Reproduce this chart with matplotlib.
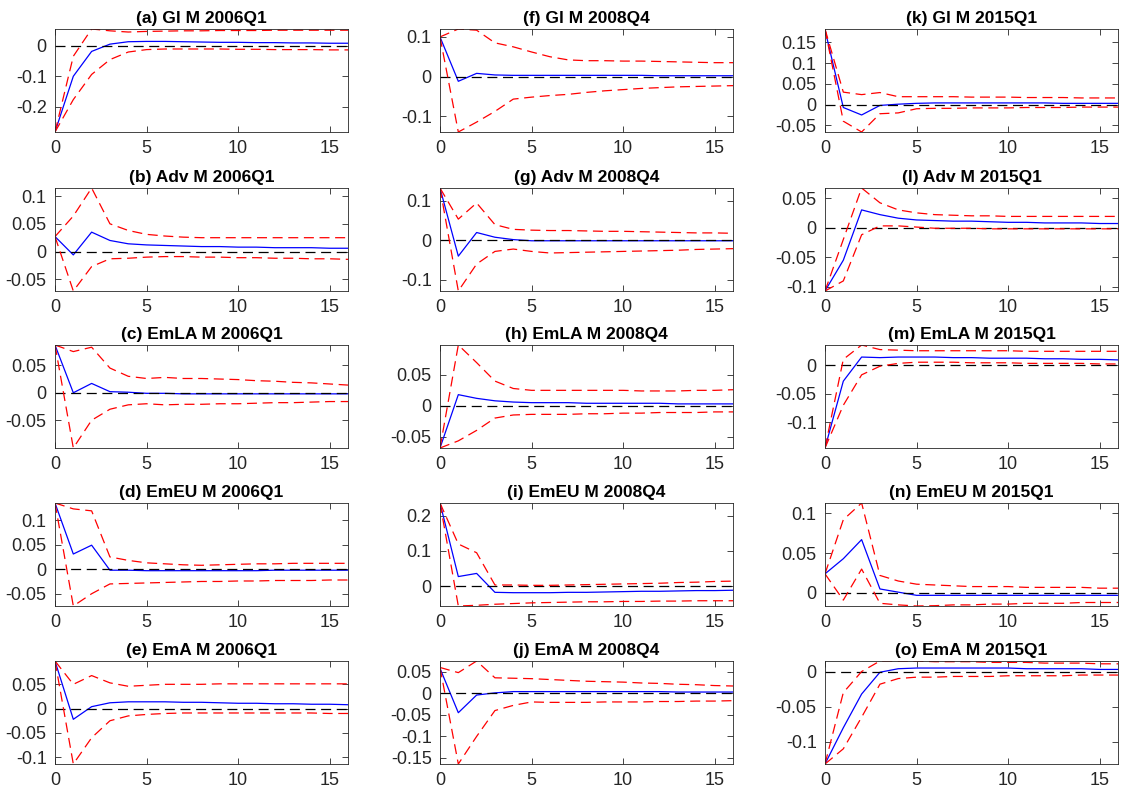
import numpy as np
import matplotlib.pyplot as plt
from matplotlib.ticker import FuncFormatter

plt.rcParams['font.family'] = ['Liberation Sans', 'DejaVu Sans']
plt.rcParams['axes.unicode_minus'] = False

horizon = np.arange(17)

titles = [
    ['(a) Gl M 2006Q1', '(f) Gl M 2008Q4', '(k) Gl M 2015Q1'],
    ['(b) Adv M 2006Q1', '(g) Adv M 2008Q4', '(l) Adv M 2015Q1'],
    ['(c) EmLA M 2006Q1', '(h) EmLA M 2008Q4', '(m) EmLA M 2015Q1'],
    ['(d) EmEU M 2006Q1', '(i) EmEU M 2008Q4', '(n) EmEU M 2015Q1'],
    ['(e) EmA M 2006Q1', '(j) EmA M 2008Q4', '(o) EmA M 2015Q1'],
]

# median responses
med_a = [-0.284, -0.100, -0.018, 0.006, 0.014, 0.015, 0.015, 0.014, 0.013, 0.012, 0.012, 0.011, 0.011, 0.010, 0.010, 0.009, 0.009]
med_b = [0.027, -0.006, 0.035, 0.020, 0.014, 0.012, 0.011, 0.010, 0.009, 0.009, 0.008, 0.008, 0.007, 0.007, 0.007, 0.006, 0.006]
med_c = [0.087, 0.000, 0.017, 0.002, 0.001, -0.001, -0.001, -0.002, -0.002, -0.002, -0.002, -0.002, -0.002, -0.002, -0.002, -0.002, -0.002]
med_d = [0.135, 0.031, 0.049, -0.002, -0.002, -0.003, -0.003, -0.003, -0.003, -0.003, -0.003, -0.003, -0.002, -0.002, -0.002, -0.002, -0.002]
med_e = [0.098, -0.022, 0.004, 0.012, 0.014, 0.014, 0.014, 0.013, 0.013, 0.012, 0.011, 0.011, 0.010, 0.010, 0.009, 0.009, 0.008]
med_f = [0.100, -0.012, 0.008, 0.004, 0.003, 0.003, 0.003, 0.003, 0.003, 0.003, 0.003, 0.003, 0.002, 0.002, 0.002, 0.002, 0.002]
med_g = [0.133, -0.040, 0.020, 0.008, 0.002, -0.001, -0.001, -0.001, -0.001, -0.001, -0.001, -0.001, -0.001, -0.001, -0.001, -0.001, -0.001]
med_h = [-0.0686, 0.018, 0.012, 0.008, 0.006, 0.005, 0.005, 0.005, 0.004, 0.004, 0.004, 0.004, 0.004, 0.003, 0.003, 0.003, 0.003]
med_i = [0.237, 0.027, 0.036, -0.018, -0.019, -0.019, -0.019, -0.018, -0.018, -0.017, -0.016, -0.015, -0.015, -0.014, -0.013, -0.013, -0.012]
med_j = [0.058, -0.045, -0.004, 0.001, 0.004, 0.004, 0.004, 0.004, 0.004, 0.004, 0.004, 0.004, 0.004, 0.003, 0.003, 0.003, 0.003]
med_k = [0.180, -0.007, -0.025, -0.002, 0.001, 0.003, 0.004, 0.004, 0.004, 0.004, 0.004, 0.004, 0.004, 0.003, 0.003, 0.003, 0.003]
med_l = [-0.107, -0.055, 0.030, 0.022, 0.016, 0.013, 0.012, 0.011, 0.011, 0.010, 0.009, 0.009, 0.008, 0.008, 0.008, 0.007, 0.007]
med_m = [-0.1445, -0.028, 0.014, 0.013, 0.014, 0.014, 0.014, 0.013, 0.013, 0.012, 0.012, 0.012, 0.011, 0.011, 0.010, 0.010, 0.009]
med_n = [0.024, 0.043, 0.067, 0.005, 0.001, -0.003, -0.003, -0.003, -0.003, -0.003, -0.003, -0.003, -0.003, -0.003, -0.003, -0.003, -0.003]
med_o = [-0.1316, -0.080, -0.032, -0.001, 0.004, 0.005, 0.005, 0.005, 0.005, 0.005, 0.005, 0.004, 0.004, 0.004, 0.004, 0.003, 0.003]

# upper bands
up_a = [-0.284, -0.034, 0.056, 0.050, 0.046, 0.048, 0.049, 0.050, 0.050, 0.051, 0.051, 0.051, 0.052, 0.052, 0.052, 0.052, 0.052]
up_b = [0.027, 0.064, 0.1145, 0.050, 0.038, 0.031, 0.028, 0.026, 0.025, 0.025, 0.025, 0.025, 0.025, 0.025, 0.025, 0.025, 0.025]
up_c = [0.087, 0.075, 0.083, 0.045, 0.030, 0.026, 0.028, 0.026, 0.026, 0.025, 0.024, 0.022, 0.021, 0.019, 0.018, 0.016, 0.014]
up_d = [0.135, 0.123, 0.119, 0.025, 0.018, 0.013, 0.011, 0.009, 0.008, 0.009, 0.010, 0.011, 0.011, 0.012, 0.012, 0.012, 0.012]
up_e = [0.098, 0.050, 0.068, 0.053, 0.046, 0.048, 0.050, 0.050, 0.050, 0.051, 0.051, 0.051, 0.051, 0.051, 0.051, 0.051, 0.051]
up_f = [0.100, 0.120, 0.117, 0.085, 0.075, 0.062, 0.050, 0.042, 0.040, 0.040, 0.039, 0.039, 0.038, 0.037, 0.036, 0.035, 0.035]
up_g = [0.133, 0.054, 0.095, 0.040, 0.028, 0.026, 0.025, 0.025, 0.024, 0.023, 0.023, 0.022, 0.021, 0.020, 0.019, 0.019, 0.018]
up_h = [-0.0686, 0.0986, 0.070, 0.040, 0.028, 0.025, 0.025, 0.025, 0.025, 0.025, 0.025, 0.024, 0.024, 0.024, 0.025, 0.025, 0.026]
up_i = [0.237, 0.120, 0.095, 0.003, 0.003, 0.002, 0.002, 0.003, 0.004, 0.005, 0.006, 0.007, 0.008, 0.010, 0.011, 0.013, 0.014]
up_j = [0.060, 0.048, 0.075, 0.036, 0.035, 0.034, 0.032, 0.030, 0.028, 0.027, 0.026, 0.024, 0.023, 0.021, 0.020, 0.018, 0.017]
up_k = [0.182, 0.030, 0.024, 0.029, 0.019, 0.019, 0.019, 0.019, 0.018, 0.018, 0.018, 0.017, 0.017, 0.017, 0.016, 0.016, 0.016]
up_l = [-0.107, -0.020, 0.067, 0.042, 0.030, 0.025, 0.022, 0.021, 0.020, 0.020, 0.019, 0.019, 0.019, 0.019, 0.019, 0.019, 0.019]
up_m = [-0.1445, 0.010, 0.035, 0.027, 0.026, 0.025, 0.025, 0.025, 0.025, 0.025, 0.025, 0.024, 0.024, 0.024, 0.024, 0.024, 0.024]
up_n = [0.024, 0.092, 0.113, 0.022, 0.015, 0.011, 0.010, 0.009, 0.008, 0.008, 0.008, 0.007, 0.007, 0.007, 0.007, 0.006, 0.006]
up_o = [-0.1316, -0.030, 0.000, 0.015, 0.015, 0.015, 0.014, 0.014, 0.014, 0.013, 0.013, 0.013, 0.012, 0.012, 0.012, 0.011, 0.011]

# lower bands
lo_a = [-0.284, -0.177, -0.094, -0.045, -0.020, -0.012, -0.010, -0.010, -0.010, -0.010, -0.011, -0.011, -0.012, -0.012, -0.012, -0.013, -0.013]
lo_b = [0.027, -0.071, -0.027, -0.013, -0.012, -0.010, -0.009, -0.009, -0.010, -0.010, -0.011, -0.011, -0.012, -0.012, -0.013, -0.013, -0.014]
lo_c = [0.087, -0.1006, -0.050, -0.030, -0.022, -0.020, -0.022, -0.021, -0.021, -0.020, -0.020, -0.019, -0.018, -0.018, -0.017, -0.016, -0.016]
lo_d = [0.135, -0.075, -0.050, -0.030, -0.029, -0.028, -0.027, -0.026, -0.025, -0.025, -0.024, -0.024, -0.023, -0.023, -0.023, -0.022, -0.022]
lo_e = [0.098, -0.114, -0.060, -0.025, -0.015, -0.012, -0.010, -0.009, -0.009, -0.009, -0.009, -0.009, -0.009, -0.009, -0.009, -0.010, -0.010]
lo_f = [0.100, -0.140, -0.115, -0.088, -0.057, -0.052, -0.048, -0.045, -0.040, -0.036, -0.033, -0.030, -0.028, -0.026, -0.025, -0.024, -0.023]
lo_g = [0.133, -0.1285, -0.060, -0.028, -0.022, -0.028, -0.032, -0.031, -0.030, -0.029, -0.028, -0.027, -0.026, -0.025, -0.023, -0.022, -0.021]
lo_h = [-0.0686, -0.057, -0.040, -0.020, -0.015, -0.014, -0.014, -0.014, -0.013, -0.013, -0.012, -0.012, -0.011, -0.011, -0.011, -0.010, -0.010]
lo_i = [0.237, -0.057, -0.055, -0.052, -0.050, -0.048, -0.047, -0.046, -0.045, -0.045, -0.044, -0.044, -0.043, -0.043, -0.042, -0.042, -0.042]
lo_j = [0.060, -0.164, -0.100, -0.040, -0.028, -0.020, -0.021, -0.021, -0.021, -0.020, -0.020, -0.020, -0.019, -0.019, -0.018, -0.018, -0.017]
lo_k = [0.182, -0.040, -0.066, -0.022, -0.020, -0.010, -0.009, -0.009, -0.008, -0.008, -0.008, -0.007, -0.007, -0.007, -0.006, -0.006, -0.006]
lo_l = [-0.107, -0.090, -0.012, 0.003, 0.003, 0.001, -0.001, -0.001, -0.001, -0.002, -0.002, -0.002, -0.002, -0.002, -0.002, -0.002, -0.002]
lo_m = [-0.1445, -0.070, -0.017, -0.002, 0.003, 0.005, 0.005, 0.005, 0.004, 0.004, 0.004, 0.003, 0.003, 0.003, 0.003, 0.002, 0.002]
lo_n = [0.024, -0.009, 0.030, -0.013, -0.015, -0.0164, -0.016, -0.015, -0.015, -0.014, -0.014, -0.013, -0.013, -0.013, -0.012, -0.012, -0.012]
lo_o = [-0.1316, -0.110, -0.065, -0.018, -0.010, -0.008, -0.008, -0.007, -0.007, -0.007, -0.006, -0.006, -0.006, -0.006, -0.005, -0.005, -0.005]

median = [[med_a, med_f, med_k], [med_b, med_g, med_l], [med_c, med_h, med_m],
          [med_d, med_i, med_n], [med_e, med_j, med_o]]
upper = [[up_a, up_f, up_k], [up_b, up_g, up_l], [up_c, up_h, up_m],
         [up_d, up_i, up_n], [up_e, up_j, up_o]]
lower = [[lo_a, lo_f, lo_k], [lo_b, lo_g, lo_l], [lo_c, lo_h, lo_m],
         [lo_d, lo_i, lo_n], [lo_e, lo_j, lo_o]]

yticks = [
    [[-0.2, -0.1, 0], [-0.1, 0, 0.1], [-0.05, 0, 0.05, 0.1, 0.15]],
    [[-0.05, 0, 0.05, 0.1], [-0.1, 0, 0.1], [-0.1, -0.05, 0, 0.05]],
    [[-0.05, 0, 0.05], [-0.05, 0, 0.05], [-0.1, -0.05, 0]],
    [[-0.05, 0, 0.05, 0.1], [0, 0.1, 0.2], [0, 0.05, 0.1]],
    [[-0.1, -0.05, 0, 0.05], [-0.15, -0.1, -0.05, 0, 0.05], [-0.1, -0.05, 0]],
]

fig = plt.figure(figsize=(11.21, 7.94), dpi=100)
W, H = 1121, 794
lefts = [55, 440, 825]
tops = [29, 188, 345, 503, 661]
ax_w, ax_h = 293, 103
dash = (8, 4.5)

for r in range(5):
    for c in range(3):
        ax = fig.add_axes([lefts[c] / W, 1 - (tops[r] + ax_h) / H, ax_w / W, ax_h / H])
        ax.plot(horizon, median[r][c], color='blue', lw=0.9)
        ax.plot(horizon, np.zeros(17), color='black', lw=0.9, dashes=dash)
        ax.plot(horizon, upper[r][c], color='red', lw=0.9, dashes=dash)
        ax.plot(horizon, lower[r][c], color='red', lw=0.9, dashes=dash)
        lo = min(lower[r][c] + upper[r][c] + median[r][c])
        hi = max(lower[r][c] + upper[r][c] + median[r][c])
        ax.set_xlim(0, 16)
        ax.set_ylim(lo, hi)
        ax.set_xticks([0, 5, 10, 15])
        ax.set_yticks(yticks[r][c])
        ax.yaxis.set_major_formatter(FuncFormatter(lambda v, p: '%g' % v))
        ax.tick_params(direction='in', top=True, right=True, length=4,
                       width=0.6, labelsize=13, colors='#262626', pad=6)
        for s in ax.spines.values():
            s.set_linewidth(0.6)
            s.set_color('#262626')
        ax.set_title(titles[r][c], fontsize=12.5, fontweight='bold', pad=4)

fig.savefig('out.png', dpi=100)
